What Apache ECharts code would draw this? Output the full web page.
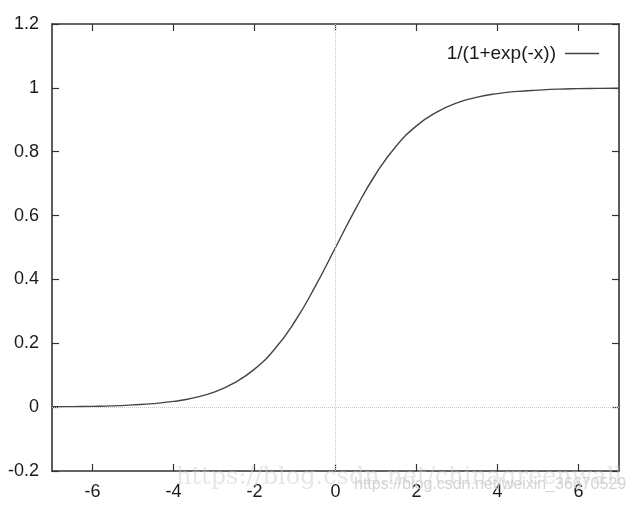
<!DOCTYPE html>
<html>
<head>
<meta charset="utf-8">
<script src="https://cdn.jsdelivr.net/npm/echarts@6/dist/echarts.min.js"></script>
<style>
  html, body { margin: 0; padding: 0; background: #fff; }
  #chart { width: 635px; height: 506px; }
</style>
</head>
<body>
<div id="chart"></div>
<script>
// values
const xValues = [-7, -6.5, -6, -5.5, -5, -4.5, -4, -3.5, -3, -2.5, -2, -1.5, -1, -0.5, 0,
  0.5, 1, 1.5, 2, 2.5, 3, 3.5, 4, 4.5, 5, 5.5, 6, 6.5, 7]
const yValues = [0.001, 0.0015, 0.0025, 0.004, 0.007, 0.011, 0.018, 0.029, 0.047, 0.076, 0.119, 0.182, 0.269, 0.378, 0.5,
  0.622, 0.731, 0.818, 0.881, 0.924, 0.953, 0.971, 0.982, 0.989, 0.993, 0.996, 0.9975, 0.9985, 0.999]
const xTicks = [-6, -4, -2, 0, 2, 4, 6]
const seriesName = '1/(1+exp(-x))'

const chart = echarts.init(document.getElementById('chart'))

const tickStyle = { show: true, inside: true, length: 7, lineStyle: { color: '#333', width: 1.2 } }
const labelStyle = { color: '#1a1a1a', fontSize: 18, fontFamily: 'Liberation Sans, Arial, sans-serif' }

const xAxisBase = {
  type: 'value',
  min: -7,
  max: 7,
  axisLine: { show: true, onZero: false, lineStyle: { color: '#333', width: 1.6 } },
  axisTick: Object.assign({}, tickStyle, { customValues: xTicks }),
  splitLine: { show: false },
}
const yAxisBase = {
  type: 'value',
  min: -0.2,
  max: 1.2,
  interval: 0.2,
  axisLine: { show: true, onZero: false, lineStyle: { color: '#333', width: 1.6 } },
  axisTick: tickStyle,
  splitLine: { show: false },
}

const option = {
  animation: false,
  grid: { left: 52, right: 16, top: 24, bottom: 35, containLabel: false },
  legend: {
    right: 31,
    top: 39,
    itemWidth: 34,
    itemHeight: 1.4,
    itemGap: 10,
    align: 'right',
    textStyle: { color: '#1a1a1a', fontSize: 19, fontFamily: 'Liberation Sans, Arial, sans-serif', padding: [0, 4, 0, 0] },
    data: [{ name: seriesName, icon: 'rect' }],
  },
  xAxis: [
    Object.assign({}, xAxisBase, {
      position: 'bottom',
      axisLabel: Object.assign({}, labelStyle, { margin: 12, customValues: xTicks }),
    }),
    Object.assign({}, xAxisBase, {
      position: 'top',
      // labels kept invisible so the custom ticks are drawn
      axisLabel: { show: true, color: 'rgba(0,0,0,0)', customValues: xTicks },
    }),
  ],
  yAxis: [
    Object.assign({}, yAxisBase, {
      position: 'left',
      axisLabel: Object.assign({}, labelStyle, {
        margin: 13,
        formatter: function (v) { return String(Math.round(v * 10) / 10) },
      }),
    }),
    Object.assign({}, yAxisBase, {
      position: 'right',
      axisLabel: { show: false },
    }),
  ],
  series: [
    {
      name: seriesName,
      type: 'line',
      smooth: true,
      showSymbol: false,
      symbol: 'none',
      color: '#444',
      lineStyle: { color: '#444', width: 1.4 },
      data: xValues.map((x, i) => [x, yValues[i]]),
      markLine: {
        silent: true,
        symbol: 'none',
        label: { show: false },
        lineStyle: { color: '#c8c8c8', type: 'dotted', width: 1 },
        data: [{ xAxis: 0 }, { yAxis: 0 }],
      },
      z: 3,
    },
  ],
  graphic: [
    {
      type: 'text',
      left: 176,
      top: 466,
      z: 10,
      style: {
        text: 'https://blog.csdn.net/chinagreenwall',
        fill: 'rgba(200,200,200,0.45)',
        font: '24px "DejaVu Serif", "Liberation Serif", serif',
      },
    },
    {
      type: 'text',
      left: 354,
      top: 477,
      z: 11,
      style: {
        text: 'https://blog.csdn.net/weixin_36670529',
        fill: 'rgba(205,205,205,0.85)',
        font: '16px "Liberation Sans", Arial, sans-serif',
      },
    },
  ],
}

chart.setOption(option)
</script>
</body>
</html>
